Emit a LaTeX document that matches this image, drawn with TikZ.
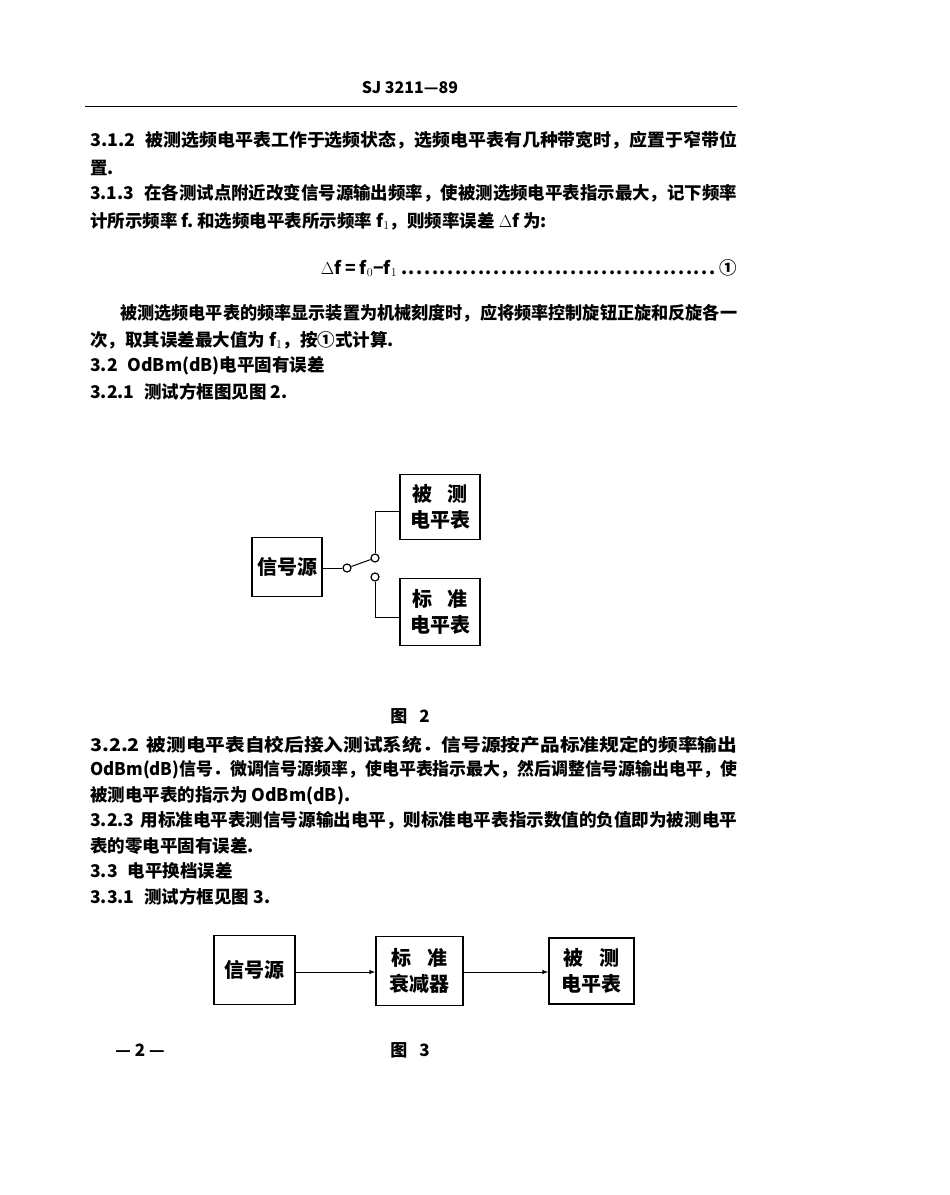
\documentclass[tikz,border=0pt]{standalone}
\usepackage{fontspec}
\usepackage{graphicx}
\setmainfont{Noto Sans CJK SC}
\newcommand{\fitline}[2]{\resizebox{#1}{\height}{#2}}
\begin{document}
\begin{tikzpicture}[x=1pt,y=-1pt,
  txt/.style={anchor=west,inner sep=0pt,font=\fontsize{17.5}{17.5}\selectfont\bfseries},
  bx/.style={draw,line width=1.6pt,inner sep=0pt,font=\fontsize{20}{26}\selectfont\bfseries},
  ln/.style={line width=1pt},
  sw/.style={circle,draw,line width=1.2pt,minimum size=8pt,inner sep=0pt,fill=white}]
\useasboundingbox (0,0) rectangle (950,1195);
\node[inner sep=0pt,font=\fontsize{16}{16}\selectfont\bfseries] (hd) at (410,88) {SJ 3211—89};
\coordinate (r1) at (85,106); \coordinate (r2) at (737,106);
\draw[line width=1pt] (r1) -- (r2);
\node[txt] (l1) at (90,140) {\fitline{647pt}{3.1.2\hspace{10pt}被测选频电平表工作于选频状态，选频电平表有几种带宽时，应置于窄带位}};
\node[txt] (l2) at (90,168) {置.};
\node[txt] (l3) at (90,193) {\fitline{647pt}{3.1.3\hspace{10pt}在各测试点附近改变信号源输出频率，使被测选频电平表指示最大，记下频率}};
\node[txt] (l4) at (90,221) {计所示频率 f.\ 和选频电平表所示频率 f$_1$，则频率误差 $\Delta$f 为:};
\node[txt,anchor=east] (l5) at (737,268) {$\Delta$f = f$_0$−f$_1$\makebox[322pt]{\dotfill}①};
\node[txt] (l6) at (120,313) {\fitline{617pt}{被测选频电平表的频率显示装置为机械刻度时，应将频率控制旋钮正旋和反旋各一}};
\node[txt] (l7) at (90,340) {次，取其误差最大值为 f$_1$，按①式计算.};
\node[txt] (l8) at (90,366) {3.2\hspace{10pt}OdBm(dB)电平固有误差};
\node[txt] (l9) at (90,392) {3.2.1\hspace{10pt}测试方框图见图 2.};
% figure 2
\node[bx,minimum width=70pt,minimum height=59pt] (src) at (287,567) {信号源};
\node[bx,minimum width=80pt,minimum height=65pt,align=center] (dut) at (440,507) {被\hspace{16pt}测\\电平表};
\node[bx,minimum width=80pt,minimum height=67pt,align=center] (std) at (440,612) {标\hspace{16pt}准\\电平表};
\node[sw] (c0) at (347,568) {};
\node[sw] (c1) at (375,558) {};
\node[sw] (c2) at (375,577) {};
\draw[ln] (src.east|-c0) -- (c0);
\draw[ln] (c0) -- (c1);
\draw[ln] (c1) |- (dut.west|-0,511);
\draw[ln] (c2) |- (std.west|-0,617);
\node[font=\fontsize{17}{17}\selectfont\bfseries] (f2) at (410,716) {图\hspace{12pt}2};
\node[txt] (m1) at (90,745) {\fitline{647pt}{3.2.2\hspace{6pt}被测电平表自校后接入测试系统．信号源按产品标准规定的频率输出}};
\node[txt] (m2) at (90,770) {\fitline{647pt}{OdBm(dB)信号．微调信号源频率，使电平表指示最大，然后调整信号源输出电平，使}};
\node[txt] (m3) at (90,796) {被测电平表的指示为 OdBm(dB).};
\node[txt] (m4) at (90,820) {\fitline{647pt}{3.2.3\hspace{6pt}用标准电平表测信号源输出电平，则标准电平表指示数值的负值即为被测电平}};
\node[txt] (m5) at (90,846) {表的零电平固有误差.};
\node[txt] (m6) at (90,871) {3.3\hspace{10pt}电平换档误差};
\node[txt] (m7) at (90,897) {3.3.1\hspace{10pt}测试方框见图 3.};
% figure 3
\node[bx,minimum width=81pt,minimum height=69pt] (a) at (254.5,970) {信号源};
\node[bx,minimum width=87pt,minimum height=69pt,align=center] (b) at (419.5,971) {标\hspace{16pt}准\\衰减器};
\node[bx,minimum width=85pt,minimum height=66pt,align=center] (c) at (591.5,971) {被\hspace{16pt}测\\电平表};
\draw[ln,-latex] (a.east|-0,972) -- (b.west|-0,972);
\draw[ln,-latex] (b.east|-0,972) -- (c.west|-0,972);
\node[font=\fontsize{17}{17}\selectfont\bfseries] (pg) at (140,1050) {— 2 —};
\node[font=\fontsize{17}{17}\selectfont\bfseries] (f3) at (410,1050) {图\hspace{12pt}3};
\end{tikzpicture}
\end{document}
